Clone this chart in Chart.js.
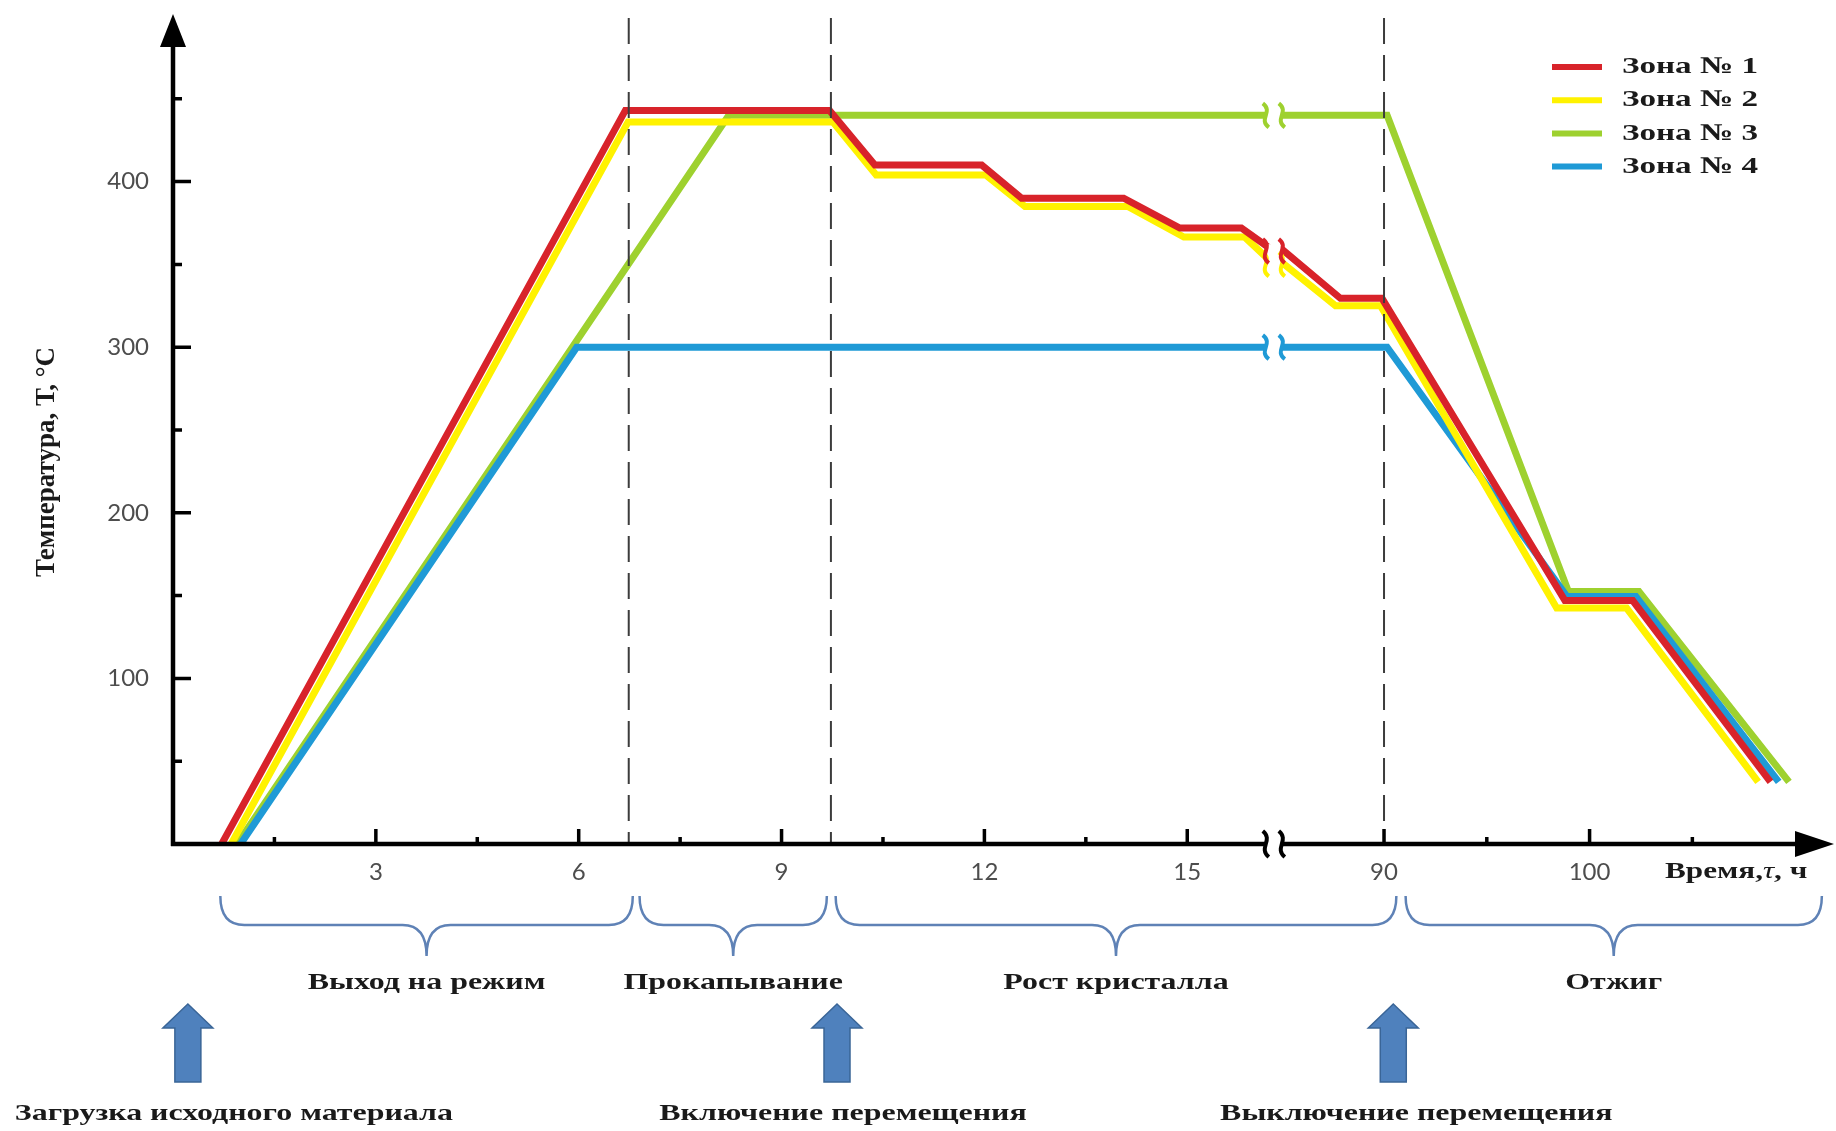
<!DOCTYPE html>
<html lang="ru">
<head>
<meta charset="utf-8">
<title>Температурный режим по зонам</title>
<script src="https://cdn.jsdelivr.net/npm/chart.js@4.4.1/dist/chart.umd.min.js"></script>
<style>
  html, body { margin: 0; padding: 0; background: #fff; }
  #wrap { position: relative; width: 1836px; height: 1131px; }
</style>
</head>
<body>
<div id="wrap"><canvas id="chart"></canvas></div>
<script>
// time in hours (after the axis break the scale jumps to ~85..110 h), temperature in °C
const zone1Hours = [0.72, 6.69, 9.71, 10.38, 11.96, 12.55, 14.06, 14.89, 15.8, 16.28, 85.05, 87.88, 89.9, 98.8, 102.1, 108.8];
const zone1Temp = [0, 443, 443, 410, 410, 390, 390, 372, 372, 358, 359, 329.5, 329.5, 147, 147, 37.5];
const zone2Hours = [0.86, 6.73, 9.76, 10.4, 12.02, 12.6, 14.12, 14.95, 15.85, 16.28, 85.05, 87.64, 89.83, 98.4, 101.8, 108.2];
const zone2Temp = [0, 436, 436, 404, 404, 385, 385, 366.5, 366.5, 350, 351, 325, 325, 142.5, 142.5, 37.5];
const zone3Hours = [0.95, 8.22, 90.15, 98.97, 102.4, 109.7];
const zone3Temp = [0, 440, 440, 152.5, 152.5, 37.5];
const zone4Hours = [1.0, 5.97, 90.15, 98.9, 102.25, 109.2];
const zone4Temp = [0, 300, 300, 149.5, 149.5, 37.5];

const zoneNames = ["Зона № 1", "Зона № 2", "Зона № 3", "Зона № 4"];
const zoneColors = ["#d8232a", "#fff200", "#9ed12f", "#1f9ad6"];

const xMajorTicks = [3, 6, 9, 12, 15, 90, 100];
const xMinorTicks = [1.5, 4.5, 7.5, 10.5, 13.5, 95, 105];
const yMajorTicks = [100, 200, 300, 400];
const yMinorTicks = [50, 150, 250, 350, 450];

const phaseLines = [6.74, 9.73, 90];
const phaseNames = ["Выход на режим", "Прокапывание", "Рост кристалла", "Отжиг"];
const phaseFrom = [0.7, 6.9, 9.8, 91.05];
const phaseTo = [6.8, 9.67, 90.6, 111.3];

const eventNames = ["Загрузка исходного материала", "Включение перемещения", "Выключение перемещения"];
const eventHours = [0.22, 9.82, 90.45];

// broken time axis: hours up to the break are drawn as is, from 85 h on they are compressed
const BREAK_AXIS = 16.28;
const AXIS_90 = 17.91;
const POST_SCALE = 0.304;
const X_AXIS_MAX = 24.55;

function toAxis(h) {
  return h <= 20 ? h : AXIS_90 + (h - 90) * POST_SCALE;
}

function toPoints(hours, temps) {
  return hours.map((h, i) => ({ x: toAxis(h), y: temps[i] }));
}

function valueAt(points, u) {
  for (let i = 1; i < points.length; i++) {
    const a = points[i - 1];
    const b = points[i];
    if (u >= a.x && u <= b.x) {
      return a.y + ((b.y - a.y) * (u - a.x)) / (b.x - a.x);
    }
  }
  return null;
}

const SERIF = "'Liberation Serif', 'DejaVu Serif', serif";

function wideText(ctx, text, x, y, sx, align = "center") {
  ctx.save();
  ctx.translate(x, y);
  ctx.scale(sx, 1);
  ctx.textAlign = align;
  ctx.fillText(text, 0, 0);
  ctx.restore();
}

function breakMark(ctx, x, y, color, h) {
  ctx.strokeStyle = color;
  ctx.lineWidth = 4;
  [-8, 8].forEach((dx) => {
    const cx = x + dx;
    ctx.beginPath();
    ctx.moveTo(cx - 3, y - h);
    ctx.bezierCurveTo(cx + 8, y - h * 0.3, cx - 8, y + h * 0.3, cx + 3, y + h);
    ctx.stroke();
  });
}

function brace(ctx, x0, x1, top, mid, tip) {
  const xm = (x0 + x1) / 2;
  const r = 24;
  ctx.beginPath();
  ctx.moveTo(x0, top);
  ctx.quadraticCurveTo(x0, mid, x0 + r, mid);
  ctx.lineTo(xm - r, mid);
  ctx.quadraticCurveTo(xm, mid, xm, tip);
  ctx.quadraticCurveTo(xm, mid, xm + r, mid);
  ctx.lineTo(x1 - r, mid);
  ctx.quadraticCurveTo(x1, mid, x1, top);
  ctx.stroke();
}

function blockArrow(ctx, cx, top, shoulder, bottom) {
  const head = 25;
  const shaft = 13;
  ctx.beginPath();
  ctx.moveTo(cx, top);
  ctx.lineTo(cx + head, shoulder);
  ctx.lineTo(cx + shaft, shoulder);
  ctx.lineTo(cx + shaft, bottom);
  ctx.lineTo(cx - shaft, bottom);
  ctx.lineTo(cx - shaft, shoulder);
  ctx.lineTo(cx - head, shoulder);
  ctx.closePath();
  ctx.fill();
  ctx.stroke();
}

const decorPlugin = {
  id: "decor",
  afterDatasetsDraw(chart) {
    const { ctx, chartArea: ca, scales } = chart;
    const px = (h) => scales.x.getPixelForValue(toAxis(h));
    const py = (v) => scales.y.getPixelForValue(v);
    ctx.save();

    // dashed phase boundaries
    ctx.strokeStyle = "#3c3c3c";
    ctx.lineWidth = 2;
    ctx.setLineDash([26, 11]);
    phaseLines.forEach((h) => {
      ctx.beginPath();
      ctx.moveTo(px(h), ca.top + 2);
      ctx.lineTo(px(h), ca.bottom);
      ctx.stroke();
    });
    ctx.setLineDash([]);

    // breaks on the curves
    const bx = scales.x.getPixelForValue(BREAK_AXIS);
    const metas = chart.getSortedVisibleDatasetMetas().slice().reverse();
    metas.forEach((meta) => {
      const ds = chart.data.datasets[meta.index];
      const v = valueAt(ds.data, BREAK_AXIS);
      if (v === null) return;
      ctx.fillStyle = "#fff";
      ctx.fillRect(bx - 7, py(v) - 7, 14, 14);
    });
    metas.forEach((meta) => {
      const ds = chart.data.datasets[meta.index];
      const v = valueAt(ds.data, BREAK_AXIS);
      if (v === null) return;
      breakMark(ctx, bx, py(v), ds.borderColor, 12);
    });

    // axes with arrows
    ctx.strokeStyle = "#000";
    ctx.fillStyle = "#000";
    ctx.lineWidth = 4.5;
    ctx.beginPath();
    ctx.moveTo(ca.left, ca.bottom + 2);
    ctx.lineTo(ca.left, ca.top + 20);
    ctx.moveTo(ca.left - 2, ca.bottom);
    ctx.lineTo(ca.right - 20, ca.bottom);
    ctx.stroke();
    ctx.beginPath();
    ctx.moveTo(ca.left, ca.top - 2);
    ctx.lineTo(ca.left - 13, ca.top + 31);
    ctx.lineTo(ca.left + 13, ca.top + 31);
    ctx.closePath();
    ctx.fill();
    ctx.beginPath();
    ctx.moveTo(ca.right + 1, ca.bottom);
    ctx.lineTo(ca.right - 38, ca.bottom - 13);
    ctx.lineTo(ca.right - 38, ca.bottom + 13);
    ctx.closePath();
    ctx.fill();

    // tick marks pointing into the plot
    ctx.lineWidth = 3.5;
    ctx.beginPath();
    yMajorTicks.forEach((v) => { ctx.moveTo(ca.left, py(v)); ctx.lineTo(ca.left + 18, py(v)); });
    yMinorTicks.forEach((v) => { ctx.moveTo(ca.left, py(v)); ctx.lineTo(ca.left + 9, py(v)); });
    xMajorTicks.forEach((h) => { ctx.moveTo(px(h), ca.bottom); ctx.lineTo(px(h), ca.bottom - 15); });
    xMinorTicks.forEach((h) => { ctx.moveTo(px(h), ca.bottom); ctx.lineTo(px(h), ca.bottom - 7); });
    ctx.stroke();

    // break on the time axis
    ctx.fillStyle = "#fff";
    ctx.fillRect(bx - 7, ca.bottom - 6, 14, 12);
    breakMark(ctx, bx, ca.bottom, "#000", 13);

    // legend
    ctx.font = `bold 24px ${SERIF}`;
    ctx.textBaseline = "middle";
    chart.data.datasets.forEach((ds, i) => {
      const ly = 67 + i * 33.2;
      ctx.strokeStyle = ds.borderColor;
      ctx.lineWidth = 6;
      ctx.beginPath();
      ctx.moveTo(1552, ly);
      ctx.lineTo(1602, ly);
      ctx.stroke();
      ctx.fillStyle = "#1a1a1a";
      wideText(ctx, ds.label, 1622, ly, 1.38, "left");
    });

    // axis titles
    ctx.fillStyle = "#1a1a1a";
    ctx.save();
    ctx.translate(47, 462);
    ctx.rotate(-Math.PI / 2);
    ctx.font = `bold 27px ${SERIF}`;
    ctx.textAlign = "center";
    ctx.fillText("Температура, Т, °С", 0, 0);
    ctx.restore();

    const parts = [
      ["Время,", `bold 24px ${SERIF}`],
      ["τ", `italic 24px ${SERIF}`],
      [", ч", `bold 24px ${SERIF}`],
    ];
    let tx = 1665;
    const sxTitle = 1.3;
    parts.forEach(([t, f]) => {
      ctx.font = f;
      wideText(ctx, t, tx, 872, sxTitle, "left");
      tx += ctx.measureText(t).width * sxTitle;
    });

    // phase braces and names
    ctx.strokeStyle = "#5f82b6";
    ctx.lineWidth = 2.5;
    ctx.font = `bold 24px ${SERIF}`;
    phaseNames.forEach((name, i) => {
      const x0 = px(phaseFrom[i]);
      const x1 = px(phaseTo[i]);
      brace(ctx, x0, x1, 896, 925, 956);
      ctx.fillStyle = "#1a1a1a";
      wideText(ctx, name, (x0 + x1) / 2, 983, 1.33);
    });

    // events: block arrows with captions
    const captionShift = [46, 6, 23];
    eventNames.forEach((name, i) => {
      const ax = px(eventHours[i]);
      ctx.fillStyle = "#4f81bd";
      ctx.strokeStyle = "#3a6597";
      ctx.lineWidth = 1.5;
      blockArrow(ctx, ax, 1004, 1028, 1082);
      ctx.fillStyle = "#1a1a1a";
      ctx.font = `bold 24px ${SERIF}`;
      wideText(ctx, name, ax + captionShift[i], 1114, 1.33);
    });

    ctx.restore();
  },
};

const hoursList = [zone1Hours, zone2Hours, zone3Hours, zone4Hours];
const tempList = [zone1Temp, zone2Temp, zone3Temp, zone4Temp];
const drawOrder = [0, 1, 3, 2];

const datasets = zoneNames.map((name, i) => ({
  label: name,
  data: toPoints(hoursList[i], tempList[i]),
  borderColor: zoneColors[i],
  backgroundColor: zoneColors[i],
  borderWidth: 7,
  borderJoinStyle: "miter",
  borderCapStyle: "butt",
  pointRadius: 0,
  tension: 0,
  fill: false,
  order: drawOrder[i],
}));

const tickFont = { family: "Lato, 'Open Sans', sans-serif", size: 24 };

new Chart(document.getElementById("chart"), {
  type: "line",
  data: { datasets },
  plugins: [decorPlugin],
  options: {
    responsive: true,
    maintainAspectRatio: false,
    animation: false,
    layout: { padding: { left: 0, top: 16, right: 3, bottom: 0 } },
    plugins: {
      legend: { display: false },
      tooltip: { enabled: false },
    },
    scales: {
      x: {
        type: "linear",
        min: 0,
        max: X_AXIS_MAX,
        afterFit: (s) => {
          s.height = 287;
          s.paddingLeft = 0;
          s.paddingRight = 0;
        },
        afterBuildTicks: (s) => {
          s.ticks = xMajorTicks.map((h) => ({ value: toAxis(h) }));
        },
        grid: { display: false, drawTicks: false },
        border: { display: false },
        ticks: {
          autoSkip: false,
          maxRotation: 0,
          padding: 14,
          color: "#4d4d4d",
          font: tickFont,
          callback: (v) => {
            const h = xMajorTicks.find((t) => Math.abs(toAxis(t) - v) < 1e-6);
            return h === undefined ? "" : String(h);
          },
        },
      },
      y: {
        min: 0,
        max: 500,
        afterFit: (s) => {
          s.width = 173;
          s.paddingTop = 0;
          s.paddingBottom = 0;
        },
        grid: { display: false, drawTicks: false },
        border: { display: false },
        ticks: {
          stepSize: 50,
          autoSkip: false,
          padding: 24,
          color: "#4d4d4d",
          font: tickFont,
          callback: (v) => (yMajorTicks.includes(v) ? String(v) : ""),
        },
      },
    },
  },
});
</script>
</body>
</html>
